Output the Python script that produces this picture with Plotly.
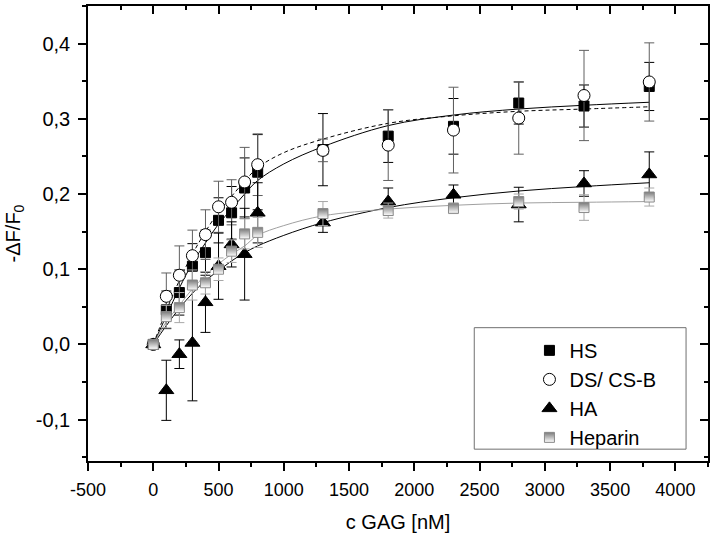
import plotly.graph_objects as go

# ---- data ----
conc = [0, 100, 200, 300, 400, 500, 600, 700, 800, 1300, 1800, 2300, 2800, 3300, 3800]

hs_y   = [0, 0.046, 0.069, 0.104, 0.122, 0.165, 0.175, 0.208, 0.229, 0.259, 0.277, 0.290, 0.321, 0.317, 0.343]
hs_err = [0, 0.025, 0.030, 0.030, 0.030, 0.030, 0.035, 0.040, 0.050, 0.048, 0.035, 0.037, 0.028, 0.028, 0.032]

ds_y   = [0, 0.064, 0.092, 0.118, 0.146, 0.183, 0.189, 0.216, 0.239, 0.258, 0.265, 0.285, 0.301, 0.331, 0.349]
ds_err = [0, 0.031, 0.039, 0.034, 0.033, 0.034, 0.030, 0.046, 0.041, 0.015, 0.047, 0.057, 0.048, 0.060, 0.052]

ha_y   = [0, -0.061, -0.013, 0.002, 0.056, 0.104, 0.133, 0.120, 0.175, 0.162, 0.190, 0.199, 0.186, 0.214, 0.226]
ha_err = [0, 0.040, 0.019, 0.077, 0.040, 0.044, 0.030, 0.061, 0.040, 0.013, 0.018, 0.013, 0.023, 0.017, 0.030]

hep_y   = [0, 0.037, 0.049, 0.079, 0.082, 0.100, 0.124, 0.147, 0.149, 0.174, 0.178, 0.181, 0.190, 0.182, 0.196]
hep_err = [0, 0.015, 0.020, 0.020, 0.015, 0.015, 0.015, 0.020, 0.020, 0.016, 0.010, 0.007, 0.010, 0.017, 0.012]

# fitted curves at sample concentrations
fit_x      = [0, 100, 200, 300, 400, 500, 600, 700, 800, 1000, 1300, 1800, 2300, 2800, 3300, 3800]
fit_hs     = [0, 0.038, 0.075, 0.108, 0.135, 0.160, 0.180, 0.200, 0.218, 0.240, 0.263, 0.291, 0.305, 0.313, 0.318, 0.322]
fit_ds     = [0, 0.045, 0.085, 0.120, 0.150, 0.176, 0.197, 0.217, 0.235, 0.255, 0.273, 0.294, 0.304, 0.310, 0.313, 0.316]
fit_ha     = [0, 0.025, 0.048, 0.068, 0.085, 0.098, 0.111, 0.122, 0.131, 0.145, 0.162, 0.182, 0.195, 0.204, 0.210, 0.215]
fit_hep    = [0, 0.030, 0.052, 0.074, 0.092, 0.107, 0.120, 0.131, 0.145, 0.158, 0.171, 0.180, 0.185, 0.188, 0.189, 0.190]

x_tickvals = [-500, 0, 500, 1000, 1500, 2000, 2500, 3000, 3500, 4000]
x_ticktext = ["-500", "0", "500", "1000", "1500", "2000", "2500", "3000", "3500", "4000"]
y_tickvals = [-0.1, 0.0, 0.1, 0.2, 0.3, 0.4]
y_ticktext = ["-0,1", "0,0", "0,1", "0,2", "0,3", "0,4"]

FONT = "Liberation Sans, Arial, sans-serif"

fig = go.Figure()

# fit lines
fig.add_trace(go.Scatter(x=fit_x, y=fit_hs, mode="lines", line=dict(color="black", width=1, shape="spline"),
                         showlegend=False, hoverinfo="skip"))
fig.add_trace(go.Scatter(x=fit_x, y=fit_ds, mode="lines", line=dict(color="black", width=1, dash="4px,3px", shape="spline"),
                         showlegend=False, hoverinfo="skip"))
fig.add_trace(go.Scatter(x=fit_x, y=fit_ha, mode="lines", line=dict(color="black", width=1, shape="spline"),
                         showlegend=False, hoverinfo="skip"))
fig.add_trace(go.Scatter(x=fit_x, y=fit_hep, mode="lines", line=dict(color="#a0a0a0", width=1, shape="spline"),
                         showlegend=False, hoverinfo="skip"))

# data series
fig.add_trace(go.Scatter(
    x=conc, y=hs_y, mode="markers", name="HS",
    marker=dict(symbol="square", size=10, color="black", line=dict(color="black", width=1)),
    error_y=dict(type="data", array=hs_err, color="black", thickness=1, width=5)))
fig.add_trace(go.Scatter(
    x=conc, y=ds_y, mode="markers", name="DS/ CS-B",
    marker=dict(symbol="circle", size=12, color="white", line=dict(color="black", width=1)),
    error_y=dict(type="data", array=ds_err, color="#606060", thickness=1, width=5)))
fig.add_trace(go.Scatter(
    x=conc, y=ha_y, mode="markers", name="HA",
    marker=dict(symbol="triangle-up", size=13, color="black", line=dict(color="black", width=1)),
    error_y=dict(type="data", array=ha_err, color="black", thickness=1, width=5)))
fig.add_trace(go.Scatter(
    x=conc, y=hep_y, mode="markers", name="Heparin",
    marker=dict(symbol="square", size=10, color="#7a7a7a",
                gradient=dict(type="vertical", color="white"),
                line=dict(color="#8a8a8a", width=1)),
    error_y=dict(type="data", array=hep_err, color="#a8a8a8", thickness=1, width=5)))

# invisible trace to carry the mirrored (inside-tick) axes
fig.add_trace(go.Scatter(x=[0], y=[0], xaxis="x2", yaxis="y2", mode="markers",
                         marker=dict(size=1, opacity=0), showlegend=False, hoverinfo="skip"))

XR = [-500, 4250]
YR = [-0.155, 0.45]

fig.update_layout(
    width=714, height=536,
    margin=dict(l=88, r=5, t=4, b=75),
    paper_bgcolor="white", plot_bgcolor="white",
    font=dict(family=FONT, color="black", size=18),
    xaxis=dict(range=XR, showgrid=False, zeroline=False,
               showline=True, linecolor="black", linewidth=1.5, mirror=True,
               tickmode="array", tickvals=x_tickvals, ticktext=x_ticktext,
               ticks="outside", ticklen=8, tickwidth=1.5, tickcolor="black",
               ticklabelstandoff=4,
               tickfont=dict(size=18, family=FONT),
               minor=dict(tickmode="linear", tick0=-500, dtick=250, ticks="outside", ticklen=4,
                          tickwidth=1.5, tickcolor="black"),
               title=dict(text="c GAG [nM]", font=dict(size=20, family=FONT), standoff=16)),
    yaxis=dict(range=YR, showgrid=False, zeroline=False,
               showline=True, linecolor="black", linewidth=1.5, mirror=True,
               tickmode="array", tickvals=y_tickvals, ticktext=y_ticktext,
               ticks="outside", ticklen=8, tickwidth=1.5, tickcolor="black",
               ticklabelstandoff=4,
               tickfont=dict(size=20, family=FONT),
               minor=dict(tickmode="linear", tick0=-0.15, dtick=0.05, ticks="outside", ticklen=4,
                          tickwidth=1.5, tickcolor="black"),
               title=dict(text="-ΔF/F<sub>0</sub>", font=dict(size=20, family=FONT), standoff=10)),
    xaxis2=dict(range=XR, overlaying="x", side="top", showgrid=False, zeroline=False, showline=False,
                tickmode="linear", tick0=-500, dtick=500, ticks="inside", ticklen=8, tickwidth=1.5,
                tickcolor="black", showticklabels=False,
                minor=dict(tickmode="linear", tick0=-500, dtick=250, ticks="inside", ticklen=4,
                           tickwidth=1.5, tickcolor="black")),
    yaxis2=dict(range=YR, overlaying="y", side="right", showgrid=False, zeroline=False, showline=False,
                tickmode="linear", tick0=-0.1, dtick=0.1, ticks="inside", ticklen=8, tickwidth=1.5,
                tickcolor="black", showticklabels=False,
                minor=dict(tickmode="linear", tick0=-0.15, dtick=0.05, ticks="inside", ticklen=4,
                           tickwidth=1.5, tickcolor="black")),
    legend=dict(x=0.712, y=0.286, xanchor="left", yanchor="top",
                bgcolor="rgba(0,0,0,0)", borderwidth=0,
                font=dict(size=20, family=FONT), tracegroupgap=0, itemsizing="trace"),
    shapes=[dict(type="rect", xref="paper", yref="paper", x0=0.623, x1=0.9646, y0=0.026, y1=0.293,
                 line=dict(color="#707070", width=1), fillcolor="rgba(0,0,0,0)", layer="below")],
    showlegend=True,
)

fig.write_html("out.html")
